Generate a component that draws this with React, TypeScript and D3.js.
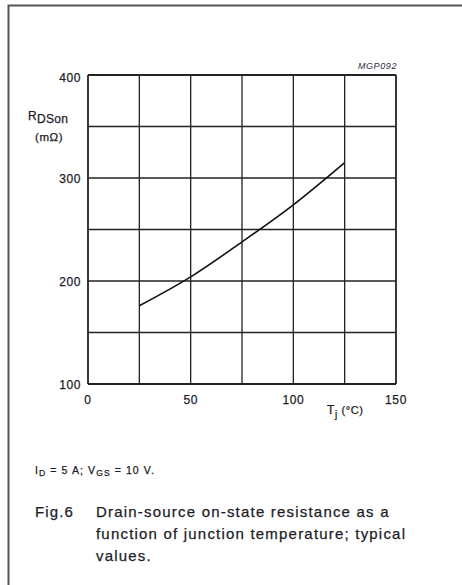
import React, { useRef, useEffect } from "react";
import * as d3 from "d3";

// junction temperature (°C) and RDSon (mΩ)
const tempValues = [25, 50, 75, 100, 125];
const rdsonValues = [176, 204, 238, 274, 315];
const xTicks = [0, 50, 100, 150];
const yTicks = [100, 200, 300, 400];
const xGrid = [0, 25, 50, 75, 100, 125, 150];
const yGrid = [100, 150, 200, 250, 300, 350, 400];

const W = 462;
const H = 585;
const FONT = "'Liberation Sans', Arial, sans-serif";
const INK = "#1c1c26";

const App = () => {
  const svgRef = useRef<SVGSVGElement>(null);

  useEffect(() => {
    const svg = d3.select(svgRef.current);
    svg.selectAll("*").remove();

    const x = d3.scaleLinear().domain([0, 150]).range([88, 396]);
    const y = d3.scaleLinear().domain([100, 400]).range([384, 75]);

    // helper for the slightly heavy, wide print look
    const txt = (sel: any, size: number, spacing: number) =>
      sel
        .style("font", `${size}px ${FONT}`)
        .style("letter-spacing", `${spacing}px`)
        .attr("fill", INK)
        .attr("stroke", INK)
        .attr("stroke-width", 0.25);

    // outer frame (runs off the page right and bottom)
    svg
      .append("path")
      .attr("d", `M8.5,${H + 10} L8.5,5.5 L${W + 10},5.5`)
      .attr("fill", "none")
      .attr("stroke", "#555")
      .attr("stroke-width", 2);

    // grid
    const g = svg.append("g");
    g.selectAll("line.v")
      .data(xGrid)
      .enter()
      .append("line")
      .attr("x1", (d) => x(d))
      .attr("x2", (d) => x(d))
      .attr("y1", y(100))
      .attr("y2", y(400))
      .attr("stroke", "#222")
      .attr("stroke-width", (d) => (d === 0 || d === 150 ? 1.8 : 1.3));
    g.selectAll("line.h")
      .data(yGrid)
      .enter()
      .append("line")
      .attr("x1", x(0))
      .attr("x2", x(150))
      .attr("y1", (d) => y(d))
      .attr("y2", (d) => y(d))
      .attr("stroke", "#222")
      .attr("stroke-width", (d) => (d === 100 || d === 400 ? 1.8 : 1.3));

    // curve
    const line = d3
      .line<number>()
      .x((_, i) => x(tempValues[i]))
      .y((d) => y(d))
      .curve(d3.curveMonotoneX);
    svg
      .append("path")
      .datum(rdsonValues)
      .attr("d", line)
      .attr("fill", "none")
      .attr("stroke", "#111")
      .attr("stroke-width", 1.6);

    // tick labels
    txt(
      svg
        .selectAll("text.yt")
        .data(yTicks)
        .enter()
        .append("text")
        .attr("x", 81)
        .attr("y", (d) => y(d) + (d === 400 ? 7 : 4.5))
        .attr("text-anchor", "end")
        .text((d) => d),
      12,
      0.6
    );
    txt(
      svg
        .selectAll("text.xt")
        .data(xTicks)
        .enter()
        .append("text")
        .attr("x", (d) => x(d))
        .attr("y", 404)
        .attr("text-anchor", "middle")
        .text((d) => d),
      12,
      0.6
    );

    // y axis title
    const yt = txt(svg.append("text").attr("x", 28).attr("y", 120), 12, 0.3);
    yt.append("tspan").text("R");
    yt.append("tspan").attr("dy", 3).text("DSon");
    txt(svg.append("text").attr("x", 35).attr("y", 141), 11.5, 0.6).text("(mΩ)");

    // x axis title
    const xt = txt(svg.append("text").attr("x", 327).attr("y", 414), 12, 0.6);
    xt.append("tspan").text("T");
    xt.append("tspan").attr("dy", 4).style("font-size", "10px").text("j");
    xt.append("tspan").attr("dy", -4).style("font-size", "11px").text(" (°C)");

    // figure code
    svg
      .append("text")
      .attr("x", 397)
      .attr("y", 69)
      .attr("text-anchor", "end")
      .style("font", `italic 9px ${FONT}`)
      .style("letter-spacing", "0.6px")
      .attr("fill", "#2a2a40")
      .text("MGP092");

    // conditions
    const cond = txt(svg.append("text").attr("x", 35).attr("y", 474), 10.5, 1.1);
    cond.append("tspan").text("I");
    cond.append("tspan").attr("dy", 2).style("font-size", "8.5px").text("D");
    cond.append("tspan").attr("dy", -2).text(" = 5 A; V");
    cond.append("tspan").attr("dy", 2).style("font-size", "8.5px").text("GS");
    cond.append("tspan").attr("dy", -2).text(" = 10 V.");

    // caption
    txt(svg.append("text").attr("x", 35).attr("y", 517), 15, 1.1).text("Fig.6");
    const captionLines = [
      "Drain-source on-state resistance as a",
      "function of junction temperature; typical",
      "values.",
    ];
    txt(
      svg
        .selectAll("text.cap")
        .data(captionLines)
        .enter()
        .append("text")
        .attr("x", 96)
        .attr("y", (_, i) => 517 + i * 22)
        .text((d) => d),
      15,
      1.2
    );
  }, []);

  return (
    <svg
      ref={svgRef}
      width={W}
      height={H}
      style={{ position: "fixed", left: 0, top: 0, background: "#fff" }}
    />
  );
};

export default App;
